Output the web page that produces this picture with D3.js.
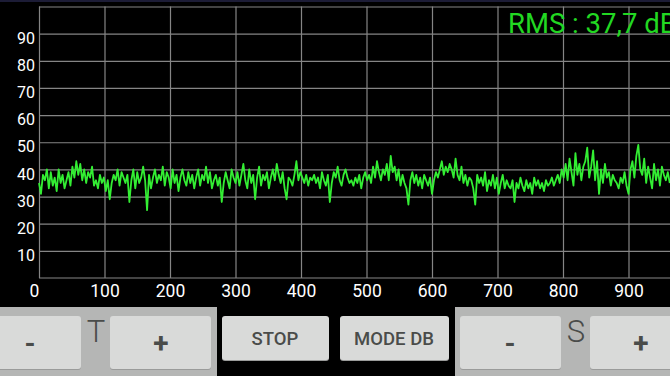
<!DOCTYPE html>
<html>
<head>
<meta charset="utf-8">
<script src="https://cdn.jsdelivr.net/npm/d3@7"></script>
<style>
  body { margin: 0; background: #000; }
  svg { display: block; font-family: Roboto, "Noto Sans", sans-serif; }
</style>
</head>
<body>
<div id="chart"></div>
<script>
// level in dB, one sample every 3 units along x
var step = 3;
var levels = [
  35,31,38,36,40,33,39,34,37,32,40,35,38,33,36,39,34,41,37,43,
  38,42,36,40,35,39,37,41,34,36,33,38,35,37,32,36,29,35,38,36,
  40,34,39,37,35,38,28,36,40,33,39,35,37,41,36,25,38,33,37,40,
  35,38,36,41,34,39,37,33,40,35,38,32,37,40,36,34,39,35,38,33,
  37,40,34,38,36,41,35,39,33,36,38,34,37,28,35,39,36,33,40,37,
  35,39,34,38,42,36,33,40,35,38,29,37,41,34,38,36,39,33,37,40,
  36,42,38,35,39,33,29,37,36,34,38,43,36,39,37,35,38,34,37,36,
  38,35,37,33,39,36,34,38,28,35,39,37,41,36,34,38,40,37,35,36,
  34,37,35,38,33,37,39,36,38,35,41,37,43,39,36,40,38,42,36,45,
  39,41,36,40,34,38,35,33,27,36,39,35,38,34,37,33,38,36,34,37,
  31,36,39,37,40,43,38,41,39,42,40,37,44,38,36,41,35,38,34,37,
  36,33,27,38,35,37,34,39,32,36,34,38,33,37,31,35,38,33,36,34,
  33,36,28,35,33,37,34,32,36,33,35,31,37,34,36,33,35,32,36,34,
  35,37,34,36,38,35,40,37,42,36,44,39,34,46,38,42,36,41,43,48,
  37,41,47,36,43,31,40,35,42,37,39,34,38,36,35,33,37,35,39,34,
  31,40,43,37,45,49,40,38,44,35,41,37,33,42,36,40,34,41,38,36,
  39,35
];
var xTicks = [0,100,200,300,400,500,600,700,800,900,1000];
var yTicks = [10,20,30,40,50,60,70,80,90];
var rmsLabel = "RMS : 37,7 dB";

var width = 670,
    height = 376;

var svg = d3.select("#chart").append("svg")
  .attr("width", width)
  .attr("height", height)
  .style("background", "#000");

// thin navy strip on top (status bar edge)
svg.append("rect")
  .attr("x", 0).attr("y", 0)
  .attr("width", width).attr("height", 2)
  .attr("fill", "#1c1c36");

var xScale = d3.scaleLinear()
  .domain([0, 1000])
  .range([39, 694]);

var yScale = d3.scaleLinear()
  .domain([0, 100])
  .range([278, 6.5]);

var gridColor = "#858585";

// horizontal grid + y labels
var yAxis = svg.append("g")
  .attr("transform", "translate(39,0)")
  .call(d3.axisLeft(yScale)
    .tickValues(yTicks.concat([100]))
    .tickSize(-(width - 39))
    .tickPadding(4)
    .tickFormat(function(d){ return d === 100 ? "" : d; }));
yAxis.select(".domain").remove();
yAxis.selectAll("line").attr("stroke", gridColor).attr("stroke-width", 1.2);
yAxis.selectAll("text")
  .attr("fill", "#fff")
  .attr("font-size", 16)
  .attr("font-family", "Roboto, sans-serif")
  .attr("dy", "0.6em");

// vertical grid + x labels
var xAxis = svg.append("g")
  .attr("transform", "translate(0,278)")
  .call(d3.axisBottom(xScale)
    .tickValues(xTicks)
    .tickSize(-(278 - 6.5))
    .tickPadding(0));
xAxis.select(".domain")
  .attr("stroke", gridColor)
  .attr("stroke-width", 1.2)
  .attr("d", "M39,0H" + width);
xAxis.selectAll("line").attr("stroke", gridColor).attr("stroke-width", 1.2);
xAxis.selectAll("text")
  .attr("fill", "#fff")
  .attr("font-size", 17.5)
  .attr("font-family", "Roboto, sans-serif")
  .attr("y", 19)
  .attr("dy", 0)
  .attr("x", function(d){ return d === 0 ? -5 : 0; });

// signal trace
var line = d3.line()
  .x(function(d, i){ return xScale(i * step); })
  .y(function(d){ return yScale(d); });

svg.append("path")
  .datum(levels)
  .attr("fill", "none")
  .attr("stroke", "#33ee33")
  .attr("stroke-width", 1.8)
  .attr("stroke-linejoin", "round")
  .attr("d", line);

svg.append("text")
  .attr("x", 508)
  .attr("y", 33)
  .attr("fill", "#22d822")
  .attr("font-size", 27.5)
  .text(rmsLabel);

// control bar below the chart
var btnFill = "#d9dad9",
    panelFill = "#b5b6b5",
    ink = "#4a4c4a";

var panels = [
  {x: 0, w: 217},
  {x: 455, w: 215}
];
svg.selectAll(".panel").data(panels)
  .enter().append("rect")
  .attr("class", "panel")
  .attr("x", function(d){ return d.x; })
  .attr("y", 307)
  .attr("width", function(d){ return d.w; })
  .attr("height", 69)
  .attr("fill", panelFill);

var buttons = [
  {x: -4, y: 316, w: 85, h: 53, label: "-", size: 28, ty: 353, cx: 30},
  {x: 110, y: 316, w: 101, h: 53, label: "+", size: 28, ty: 353, cx: 161},
  {x: 222, y: 316, w: 107, h: 44, label: "STOP", size: 18.5, ty: 345, cx: 275},
  {x: 340, y: 316, w: 109, h: 44, label: "MODE DB", size: 18.5, ty: 345, cx: 394},
  {x: 460, y: 316, w: 101, h: 53, label: "-", size: 28, ty: 353, cx: 510},
  {x: 590, y: 316, w: 101, h: 53, label: "+", size: 28, ty: 353, cx: 641}
];

var btn = svg.selectAll(".btn").data(buttons)
  .enter().append("g")
  .attr("class", "btn");

btn.append("rect")
  .attr("x", function(d){ return d.x; })
  .attr("y", function(d){ return d.y + 1; })
  .attr("width", function(d){ return d.w; })
  .attr("height", function(d){ return d.h; })
  .attr("rx", 3)
  .attr("fill", "#9a9b9a");

btn.append("rect")
  .attr("x", function(d){ return d.x; })
  .attr("y", function(d){ return d.y; })
  .attr("width", function(d){ return d.w; })
  .attr("height", function(d){ return d.h; })
  .attr("rx", 3)
  .attr("fill", btnFill);

btn.append("text")
  .attr("x", function(d){ return d.cx; })
  .attr("y", function(d){ return d.ty; })
  .attr("text-anchor", "middle")
  .attr("fill", ink)
  .attr("font-size", function(d){ return d.size; })
  .attr("font-weight", function(d){ return d.size > 20 ? 700 : 500; })
  .text(function(d){ return d.label; });

var sideLabels = [
  {x: 96, label: "T"},
  {x: 576, label: "S"}
];
svg.selectAll(".side").data(sideLabels)
  .enter().append("text")
  .attr("class", "side")
  .attr("x", function(d){ return d.x; })
  .attr("y", 342)
  .attr("text-anchor", "middle")
  .attr("fill", ink)
  .attr("font-size", 31)
  .attr("font-weight", 300)
  .text(function(d){ return d.label; });
</script>
</body>
</html>
